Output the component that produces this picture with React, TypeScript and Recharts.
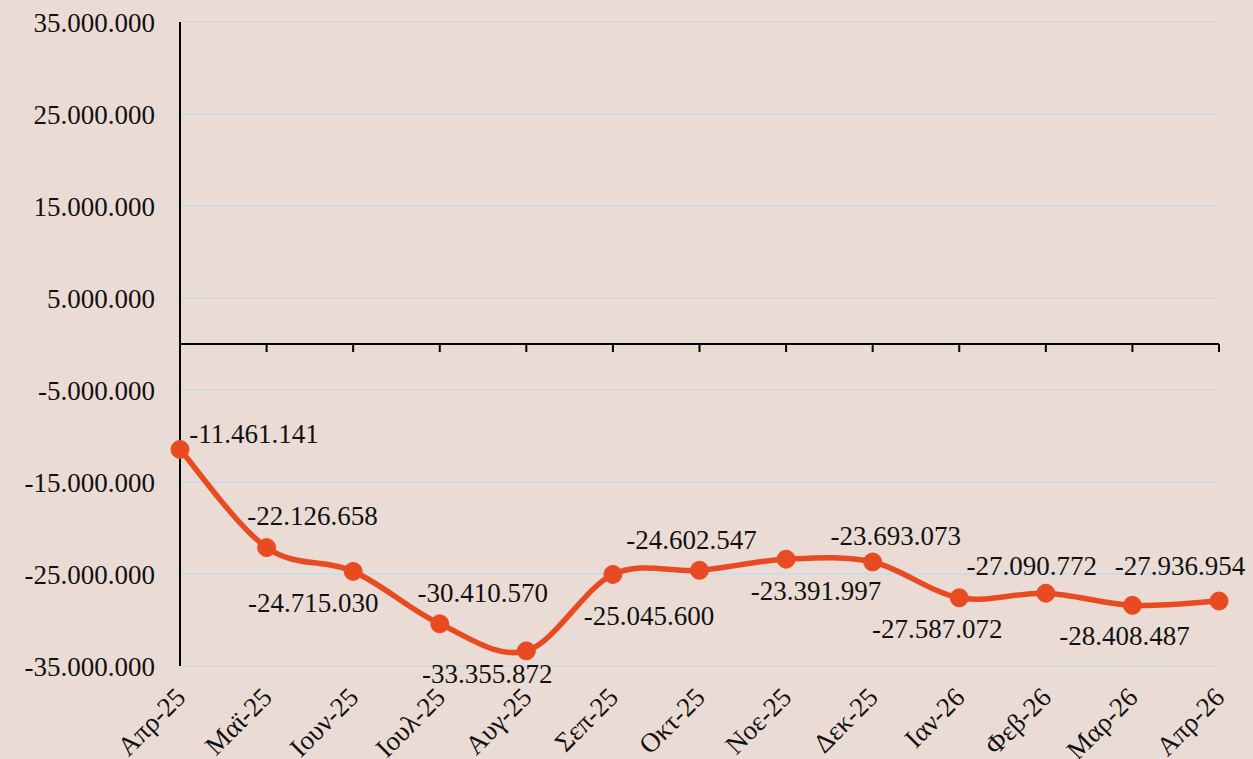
import React from 'react';
import { LineChart, Line, XAxis, YAxis, CartesianGrid, ReferenceLine, LabelList } from 'recharts';

const months = ['Απρ-25', 'Μαϊ-25', 'Ιουν-25', 'Ιουλ-25', 'Αυγ-25', 'Σεπ-25', 'Οκτ-25', 'Νοε-25', 'Δεκ-25', 'Ιαν-26', 'Φεβ-26', 'Μαρ-26', 'Απρ-26'];
const balances = [-11461141, -22126658, -24715030, -30410570, -33355872, -25045600, -24602547, -23391997, -23693073, -27587072, -27090772, -28408487, -27936954];
const yTicks = [-35000000, -25000000, -15000000, -5000000, 5000000, 15000000, 25000000, 35000000];
const yDomain = [-35000000, 35000000];

// label placement (pixel offsets of label centre from its point), style only
const LABEL_OFFSETS: [number, number][] = [
  [74, -15], [46, -32], [-40, 32], [43, -31], [-39, 23], [36, 42], [-8, -30],
  [30, 32], [23, -26], [-22, 31], [-14, -27], [-8, 31], [-39, -35],
];

const BG = '#EADCD5';
const LINE = '#E84B22';
const GRID = '#CFDCE4';
const FONT = '"Liberation Serif", serif';
const FS = 27;
const W = 1253;
const H = 759;
const M = { top: 22, right: 34, bottom: 0, left: 0 };
const TICK_PX = 8;
const plotH = H - M.top - 93;
const tickVal = (TICK_PX * (yDomain[1] - yDomain[0])) / plotH;

const rows = months.map((m, i) => ({ month: m, value: balances[i] }));

const fmt = (v: number) => {
  const s = Math.abs(Math.round(v)).toString().replace(/\B(?=(\d{3})+(?!\d))/g, '.');
  return (v < 0 ? '-' : '') + s;
};

// Excel-like smoothing (Catmull-Rom as cubic Bezier)
const excelSmooth = (context: any) => {
  let pts: number[][] = [];
  let area = NaN;
  return {
    areaStart() { area = 0; },
    areaEnd() { area = NaN; },
    lineStart() { pts = []; },
    lineEnd() {
      const n = pts.length;
      if (n > 0) {
        context.moveTo(pts[0][0], pts[0][1]);
        for (let i = 0; i < n - 1; i++) {
          const p0 = pts[Math.max(i - 1, 0)];
          const p1 = pts[i];
          const p2 = pts[i + 1];
          const p3 = pts[Math.min(i + 2, n - 1)];
          const c1x = p1[0] + (p2[0] - p0[0]) / 6;
          const c1y = p1[1] + (p2[1] - p0[1]) / 6;
          const c2x = p2[0] - (p3[0] - p1[0]) / 6;
          const c2y = p2[1] - (p3[1] - p1[1]) / 6;
          context.bezierCurveTo(c1x, c1y, c2x, c2y, p2[0], p2[1]);
        }
      }
      if (area === 0) context.closePath();
    },
    point(x: number, y: number) { pts.push([+x, +y]); },
  };
};

const ValueLabel = (props: any) => {
  const { x, y, value } = props;
  let index = props.index;
  if (index === undefined || index === null) index = balances.indexOf(value);
  const off = LABEL_OFFSETS[index] || [0, -20];
  return (
    <text x={x + off[0]} y={y + off[1]} textAnchor="middle" dominantBaseline="central"
      fontFamily={FONT} fontSize={FS} fill="#111">
      {fmt(value)}
    </text>
  );
};

const MonthTick = (props: any) => {
  const { x, y, payload } = props;
  const tx = x + 7;
  const ty = y + 33;
  return (
    <text x={tx} y={ty} transform={`rotate(-45, ${tx}, ${ty})`} textAnchor="end"
      fontFamily={FONT} fontSize={FS} fill="#111">
      {payload.value}
    </text>
  );
};

export default function App() {
  return (
    <div style={{ position: 'absolute', left: 0, top: 0, width: W, height: H, background: BG, overflow: 'hidden' }}>
      <LineChart width={W} height={H} data={rows} margin={M}>
        <CartesianGrid vertical={false} stroke={GRID} strokeWidth={2} />
        <XAxis dataKey="month" axisLine={false} tickLine={false} tickSize={0} tickMargin={0}
          height={93} interval={0} padding={{ left: 0, right: 0 }} tick={<MonthTick />} />
        <YAxis type="number" domain={yDomain} ticks={yTicks} width={180} allowDataOverflow
          axisLine={{ stroke: '#000', strokeWidth: 2 }} tickLine={false} tickSize={0} tickMargin={25}
          tickFormatter={fmt} tick={{ fontFamily: FONT, fontSize: FS, fill: '#111' }} />
        <ReferenceLine y={0} stroke="#000" strokeWidth={2} />
        {months.slice(1).map((m) => (
          <ReferenceLine key={m} segment={[{ x: m, y: 0 }, { x: m, y: -tickVal }]} stroke="#000" strokeWidth={2} />
        ))}
        <Line dataKey="value" type={excelSmooth as any} stroke={LINE} strokeWidth={5.5}
          dot={{ r: 9, fill: LINE, stroke: LINE, strokeWidth: 1 }} activeDot={false} isAnimationActive={false}>
          <LabelList dataKey="value" content={<ValueLabel />} />
        </Line>
      </LineChart>
    </div>
  );
}
